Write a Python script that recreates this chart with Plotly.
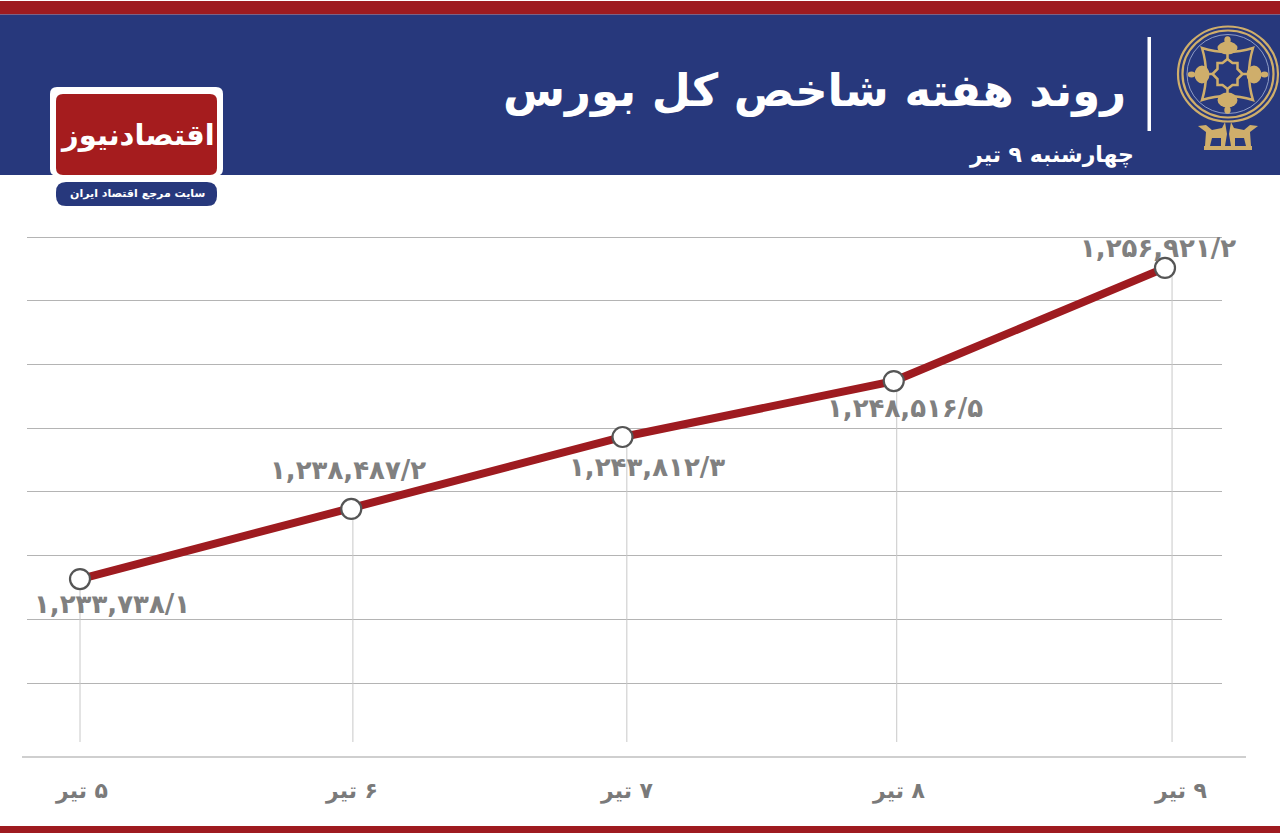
import plotly.graph_objects as go

days = ["۵ تیر", "۶ تیر", "۷ تیر", "۸ تیر", "۹ تیر"]
point_labels = ["۱,۲۳۳,۷۳۸/۱", "۱,۲۳۸,۴۸۷/۲", "۱,۲۴۳,۸۱۲/۳", "۱,۲۴۸,۵۱۶/۵", "۱,۲۵۶,۹۲۱/۲"]
index_values = [1233160, 1238660, 1244310, 1248700, 1257580]
grid_values = [1225000, 1230000, 1235000, 1240000, 1245000, 1250000, 1255000, 1260000]
# the drop lines sit slightly apart from the points in the picture
drop_positions = [0, 1.006, 2.016, 3.011, 4.026]
title_text = "روند هفته شاخص کل بورس"
subtitle_text = "چهارشنبه ۹ تیر"
logo_text = "اقتصادنیوز"
logo_sub = "سایت مرجع اقتصاد ایران"

RED = "#9e1b20"
BLUE = "#27387c"
GOLD = "#cfae6b"
GREY = "#808080"
AR = "DejaVu Sans"
W, H = 1280, 836
ML, MR, MT, MB = 27, 58, 230, 79
PW = W - ML - MR
PH = H - MT - MB
idx = list(range(len(days)))
floor_value = 1220370

fig = go.Figure()
fig.add_trace(go.Scatter(
    x=drop_positions, y=index_values, mode="markers", marker=dict(size=1, color="rgba(0,0,0,0)"),
    error_y=dict(type="data", symmetric=False, array=[0] * 5,
                 arrayminus=[v - floor_value for v in index_values],
                 color="#c8c8c8", thickness=1, width=0),
    hoverinfo="skip", showlegend=False, cliponaxis=False))
fig.add_trace(go.Scatter(
    x=idx, y=index_values, mode="lines+markers",
    line=dict(color=RED, width=8),
    marker=dict(size=20, color="white", line=dict(color="#555555", width=2.2)),
    showlegend=False, cliponaxis=False))


def ex(x):
    return (x - ML) / PW


def ey(y):
    return (H - MB - y) / PH


def rect(x0, y0, x1, y1, color):
    fig.add_shape(type="rect", xref="paper", yref="paper", layer="below",
                  x0=ex(x0), x1=ex(x1), y0=ey(y0), y1=ey(y1),
                  fillcolor=color, line_width=0)


def text(x, y, s, size, color, anchor="center", bold=True, font=AR):
    fig.add_annotation(xref="paper", yref="paper", x=ex(x), y=ey(y), text=f"<b>{s}</b>" if bold else s,
                       showarrow=False, xanchor=anchor, yanchor="middle",
                       font=dict(family=font, size=size, color=color))


def ellipse(cx, cy, rx, ry, fill=None, line=None, lw=0):
    fig.add_shape(type="circle", xref="paper", yref="paper",
                  x0=ex(cx - rx), x1=ex(cx + rx), y0=ey(cy - ry), y1=ey(cy + ry),
                  fillcolor=fill if fill else "rgba(0,0,0,0)",
                  line=dict(color=line if line else "rgba(0,0,0,0)", width=lw))


def poly(points, fill=None, line=None, lw=0, close=True):
    d = "M " + " L ".join(f"{ex(x)} {ey(y)}" for x, y in points) + (" Z" if close else "")
    fig.add_shape(type="path", xref="paper", yref="paper", path=d,
                  fillcolor=fill if fill else "rgba(0,0,0,0)",
                  line=dict(color=line if line else "rgba(0,0,0,0)", width=lw))


rect(0, 1, W, 14.5, RED)
rect(0, 14.5, W, 175, BLUE)
rect(0, 826, W, 833, RED)
rect(1147.5, 37, 1151, 131, "white")

text(1128, 90, title_text, 45, "white", "right")
text(1136, 155, subtitle_text, 22, "white", "right")

# seal
ellipse(1228, 74, 50, 47.5, line=GOLD, lw=2.2)
ellipse(1228, 74, 45.5, 43.5, line=GOLD, lw=2.2)
ellipse(1228, 74, 41, 39.5, line="#8f9cc4", lw=1)
fig.add_shape(type="path", xref="paper", yref="paper",
              path=(f"M {ex(1202)} {ey(48)} Q {ex(1227)} {ey(56)} {ex(1253)} {ey(48)} "
                    f"Q {ex(1245)} {ey(74)} {ex(1253)} {ey(100)} "
                    f"Q {ex(1227)} {ey(92)} {ex(1202)} {ey(100)} "
                    f"Q {ex(1210)} {ey(74)} {ex(1202)} {ey(48)} Z"),
              fillcolor="rgba(0,0,0,0)", line=dict(color=GOLD, width=2.5))
inner = [(0, -15), (-5, -11), (-10, -11), (-10, -5), (-15, 0), (-10, 5), (-10, 11), (-5, 11),
         (0, 15), (5, 11), (10, 11), (10, 5), (15, 0), (10, -5), (10, -11), (5, -11)]
poly([(1227.5 + a, 74 + b) for a, b in inner], line=GOLD, lw=2.5)
for a, b in [(0, -15), (-15, 0), (15, 0), (0, 15)]:
    sx = 1 if a > 0 else (-1 if a < 0 else 0)
    sy = 1 if b > 0 else (-1 if b < 0 else 0)
    poly([(1227.5 + a, 74 + b), (1227.5 + a + 8 * sx, 74 + b + 8 * sy)], line=GOLD, lw=2.5, close=False)
ellipse(1227.5, 48, 10, 6.5, fill=GOLD)
ellipse(1227.5, 40, 3.2, 3.8, fill=GOLD)
ellipse(1227.5, 100, 10, 7.5, fill=GOLD)
ellipse(1227.5, 110, 3.2, 3.8, fill=GOLD)
ellipse(1202, 74.5, 7.5, 9, fill=GOLD)
ellipse(1191.5, 74.5, 3.8, 3, fill=GOLD)
ellipse(1254, 74.5, 7.5, 9, fill=GOLD)
ellipse(1264.5, 74.5, 3.8, 3, fill=GOLD)
deer = [(1198, 126), (1206, 125), (1212, 130), (1222, 128), (1225, 122), (1227, 134), (1225, 146),
        (1221, 146), (1221, 138), (1212, 138), (1210, 146), (1205, 146), (1206, 132)]
poly(deer, fill=GOLD)
poly([(2 * 1228 - x, y) for x, y in deer], fill=GOLD)
rect(1204, 146, 1252, 150, GOLD)

# axis baseline
fig.add_shape(type="line", xref="paper", yref="paper", x0=ex(22), x1=ex(1246), y0=ey(757), y1=ey(757),
              line=dict(color="#a0a0a0", width=1.2))

label_offsets = [(32, -25), (-3, 39), (24, -30), (11, -27), (-7, 20)]
for i, (dx, dy) in enumerate(label_offsets):
    fig.add_annotation(x=i, y=index_values[i], text=f"<b>{point_labels[i]}</b>", showarrow=False,
                       xshift=dx, yshift=dy,
                       font=dict(family=AR, size=26, color=GREY))

tick_offsets = [1, 0, 4.5, 5, 15]
for i, dx in enumerate(tick_offsets):
    fig.add_annotation(x=i, y=0, yref="paper", text=f"<b>\u200f{days[i]}</b>", showarrow=False,
                       xshift=dx, yshift=-49, font=dict(family=AR, size=22, color="#7a7a7a"))

# newspaper badge
for (x0, y0, x1, y1, c, r) in [(50, 87, 223, 176, "white", 7), (56, 94, 217, 175, "#a51c1e", 7),
                                (56, 182, 217, 206, BLUE, 10)]:
    fig.add_shape(type="path", xref="paper", yref="paper",
                  path=(f"M {ex(x0+r)} {ey(y0)} L {ex(x1-r)} {ey(y0)} Q {ex(x1)} {ey(y0)} {ex(x1)} {ey(y0+r)} "
                        f"L {ex(x1)} {ey(y1-r)} Q {ex(x1)} {ey(y1)} {ex(x1-r)} {ey(y1)} "
                        f"L {ex(x0+r)} {ey(y1)} Q {ex(x0)} {ey(y1)} {ex(x0)} {ey(y1-r)} "
                        f"L {ex(x0)} {ey(y0+r)} Q {ex(x0)} {ey(y0)} {ex(x0+r)} {ey(y0)} Z"),
                  fillcolor=c, line_width=0, layer="below")
text(137, 135, logo_text, 29, "white")
text(137, 194, logo_sub, 11, "white")

fig.update_layout(
    width=W, height=H, margin=dict(l=ML, r=MR, t=MT, b=MB),
    paper_bgcolor="white", plot_bgcolor="white", showlegend=False,
    xaxis=dict(range=[(ML - 80) / 271.25, (W - MR - 80) / 271.25], visible=False, fixedrange=True),
    yaxis=dict(range=[1219192, 1260557], tickmode="array", tickvals=grid_values, showticklabels=False,
               showgrid=True, gridcolor="#b4b4b4", gridwidth=1, zeroline=False, ticks="", fixedrange=True),
)
fig.write_html("out.html", config={"displayModeBar": False},
               post_script="document.body.style.margin='0';document.body.style.overflow='hidden';")
